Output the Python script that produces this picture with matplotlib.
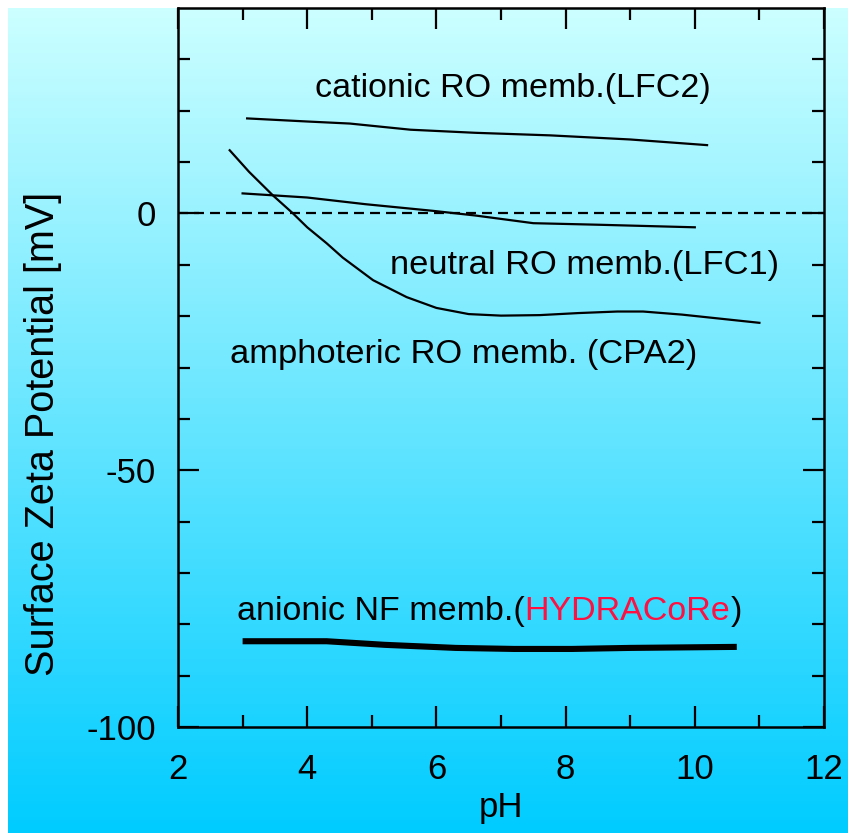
import numpy as np
import matplotlib
matplotlib.use('Agg')
import matplotlib.pyplot as plt

plt.rcParams['font.family'] = ['Liberation Sans', 'DejaVu Sans']
plt.rcParams['axes.unicode_minus'] = False

# curves: pH vs zeta potential [mV]
ph_lfc2 = [3.07, 4.0, 4.66, 5.6, 6.6, 7.76, 9.0, 10.19]
zp_lfc2 = [18.5, 17.9, 17.5, 16.3, 15.7, 15.2, 14.4, 13.3]

ph_lfc1 = [3.0, 4.0, 4.9, 5.95, 6.6, 7.5, 8.5, 10.0]
zp_lfc1 = [3.9, 3.1, 1.8, 0.5, -0.4, -1.9, -2.2, -2.7]

ph_cpa2 = [2.8, 3.1, 3.47, 3.78, 4.0, 4.3, 4.55, 5.02, 5.54, 6.0, 6.5, 7.0,
           7.6, 8.2, 8.8, 9.2, 9.8, 10.4, 11.0]
zp_cpa2 = [12.3, 8.1, 3.5, 0.0, -2.7, -5.8, -8.6, -13.0, -16.3, -18.4, -19.6, -19.9,
           -19.8, -19.4, -19.1, -19.1, -19.7, -20.5, -21.3]

ph_hydra = [3.0, 4.3, 5.2, 6.3, 7.2, 8.1, 9.0, 10.65]
zp_hydra = [-83.3, -83.3, -84.0, -84.6, -84.8, -84.8, -84.6, -84.4]

fig = plt.figure(figsize=(8.48, 8.33), dpi=100)
fig.patch.set_facecolor('white')

# gradient backdrop (light cyan at top -> deep sky blue at bottom)
bg = fig.add_axes([8/848, 0, 1 - 8/848, 1 - 8/833])
top = np.array([204, 255, 255]) / 255.
bot = np.array([0, 204, 255]) / 255.
t = np.linspace(0, 1, 256)[:, None]
grad = (top[None, :] * (1 - t) + bot[None, :] * t)[:, None, :]
bg.imshow(grad, aspect='auto', extent=[0, 1, 0, 1])
bg.axis('off')

ax = fig.add_axes([178/848, 106/833, 646/848, 719/833])
ax.set_facecolor('none')

ax.axhline(0, color='k', lw=1.6, ls=(0, (4.5, 2.7)), zorder=1)
ax.plot(ph_lfc2, zp_lfc2, color='k', lw=1.6)
ax.plot(ph_lfc1, zp_lfc1, color='k', lw=1.6)
ax.plot(ph_cpa2, zp_cpa2, color='k', lw=1.6)
ax.plot(ph_hydra, zp_hydra, color='k', lw=4.4, solid_capstyle='butt')

fs = 24.5
ax.text(4.12, 24.3, 'cationic RO memb.(LFC2)', fontsize=fs, va='center', ha='left')
ax.text(5.28, -10.2, 'neutral RO memb.(LFC1)', fontsize=24.8, va='center', ha='left')
ax.text(2.80, -27.5, 'amphoteric RO memb. (CPA2)', fontsize=24.8, va='center', ha='left')
t1 = ax.text(2.91, -77.5, 'anionic NF memb.(', fontsize=fs, va='center', ha='left')
t2 = ax.annotate('HYDRACoRe', xycoords=t1, xy=(1, 0), va='bottom', ha='left',
                 fontsize=fs, color='#FF1040')
ax.annotate(')', xycoords=t2, xy=(1, 0), va='bottom', ha='left', fontsize=fs)

ax.set_xlim(2, 12)
ax.set_ylim(-100, 40)
ax.set_xticks([2, 4, 6, 8, 10, 12])
ax.set_xticks([3, 5, 7, 9, 11], minor=True)
ax.set_yticks([-100, -50, 0])
ax.set_yticks([-90, -80, -70, -60, -40, -30, -20, -10, 10, 20, 30], minor=True)
ax.tick_params(which='both', direction='in', top=True, right=True, width=1.6,
               labelsize=25)
ax.tick_params(axis='x', which='major', pad=19)
ax.tick_params(axis='y', which='major', pad=16)
ax.tick_params(which='major', length=15)
ax.tick_params(which='minor', length=8.5)
for s in ax.spines.values():
    s.set_linewidth(1.8)

ax.set_xlabel('pH', fontsize=25)
ax.xaxis.set_label_coords(0.5, -0.089)
ax.set_ylabel('Surface Zeta Potential [mV]', fontsize=28.5)
ax.yaxis.set_label_coords(-0.18, 0.407)

fig.savefig('out.png', dpi=100)
